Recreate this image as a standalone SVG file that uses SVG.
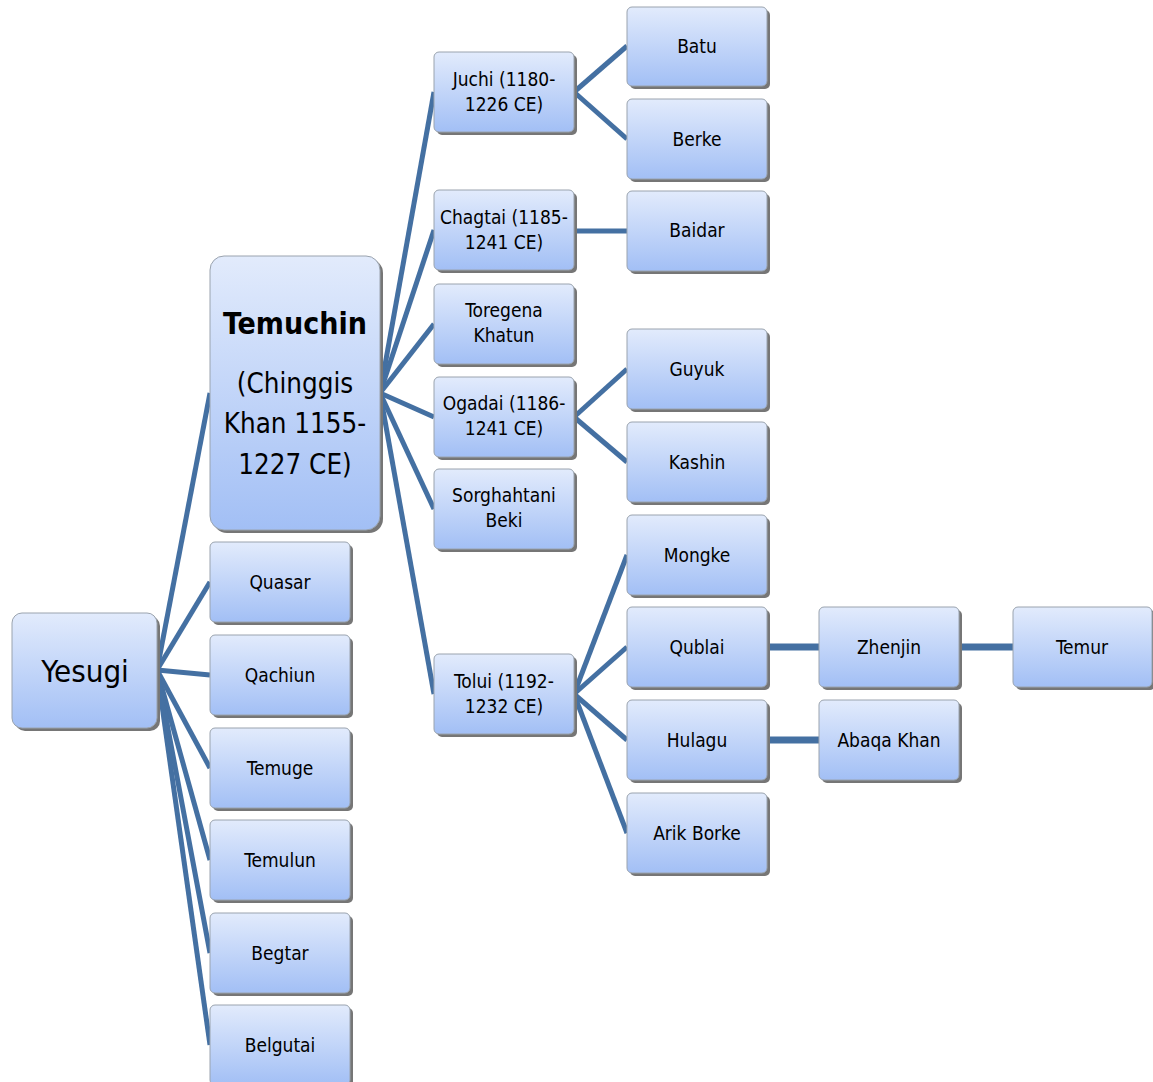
<svg xmlns="http://www.w3.org/2000/svg" width="1153" height="1082" viewBox="0 0 1153 1082">
<defs>
<linearGradient id="g" x1="0" y1="0" x2="0" y2="1">
<stop offset="0" stop-color="#e2ebfc"/>
<stop offset="1" stop-color="#a2bff5"/>
</linearGradient>
</defs>
<style>
.sh{fill:#767676}
.bx{fill:url(#g);stroke:#9aa3ae;stroke-width:1}
.t{font-family:"Liberation Sans Narrow","DejaVu Sans Condensed",sans-serif;font-size:19px;fill:#000;text-anchor:middle}
.c line{stroke:#4470a2;stroke-width:5;stroke-linecap:butt}
</style>
<rect width="1153" height="1082" fill="#fff"/>
<g class="c" id="connectors">
<line x1="157" y1="670" x2="210" y2="393"/>
<line x1="157" y1="670" x2="210" y2="582"/>
<line x1="157" y1="670" x2="210" y2="675"/>
<line x1="157" y1="670" x2="210" y2="768"/>
<line x1="157" y1="670" x2="210" y2="860"/>
<line x1="157" y1="670" x2="210" y2="953"/>
<line x1="157" y1="670" x2="210" y2="1045"/>
<line x1="380" y1="393" x2="434" y2="92"/>
<line x1="380" y1="393" x2="434" y2="230"/>
<line x1="380" y1="393" x2="434" y2="324"/>
<line x1="380" y1="393" x2="434" y2="417"/>
<line x1="380" y1="393" x2="434" y2="509"/>
<line x1="380" y1="393" x2="434" y2="694"/>
<line x1="574" y1="92" x2="627" y2="46"/>
<line x1="574" y1="92" x2="627" y2="139"/>
<line x1="574" y1="231" x2="627" y2="231"/>
<line x1="574" y1="417" x2="627" y2="369"/>
<line x1="574" y1="417" x2="627" y2="462"/>
<line x1="574" y1="694" x2="627" y2="555"/>
<line x1="574" y1="694" x2="627" y2="647"/>
<line x1="574" y1="694" x2="627" y2="740"/>
<line x1="574" y1="694" x2="627" y2="833"/>
<line x1="767" y1="647" x2="819" y2="647" style="stroke-width:7"/>
<line x1="959" y1="647" x2="1013" y2="647" style="stroke-width:7"/>
<line x1="767" y1="740" x2="819" y2="740" style="stroke-width:7"/>
</g>
<g id="yesugi"><rect class="sh" x="15" y="616" width="145" height="115" rx="10"/><rect class="bx" x="12" y="613" width="145" height="115" rx="10"/><text class="t" x="85" y="682" style="font-size:31px">Yesugi</text></g>
<g id="temuchin"><rect class="sh" x="213" y="259" width="170" height="274" rx="14"/><rect class="bx" x="210" y="256" width="170" height="274" rx="14"/>
<text class="t" x="295" y="334" style="font-size:30px;font-weight:bold">Temuchin</text>
<text class="t" x="295" y="393" style="font-size:27.5px">(Chinggis</text>
<text class="t" x="295" y="433" style="font-size:27.5px">Khan 1155-</text>
<text class="t" x="295" y="474" style="font-size:27.5px">1227 CE)</text></g>
<g id="quasar"><rect class="sh" x="213" y="545" width="140" height="80" rx="5"/><rect class="bx" x="210" y="542" width="140" height="80" rx="5"/><text class="t" x="280" y="589">Quasar</text></g>
<g id="qachiun"><rect class="sh" x="213" y="638" width="140" height="80" rx="5"/><rect class="bx" x="210" y="635" width="140" height="80" rx="5"/><text class="t" x="280" y="682">Qachiun</text></g>
<g id="temuge"><rect class="sh" x="213" y="731" width="140" height="80" rx="5"/><rect class="bx" x="210" y="728" width="140" height="80" rx="5"/><text class="t" x="280" y="775">Temuge</text></g>
<g id="temulun"><rect class="sh" x="213" y="823" width="140" height="80" rx="5"/><rect class="bx" x="210" y="820" width="140" height="80" rx="5"/><text class="t" x="280" y="867">Temulun</text></g>
<g id="begtar"><rect class="sh" x="213" y="916" width="140" height="80" rx="5"/><rect class="bx" x="210" y="913" width="140" height="80" rx="5"/><text class="t" x="280" y="960">Begtar</text></g>
<g id="belgutai"><rect class="sh" x="213" y="1008" width="140" height="80" rx="5"/><rect class="bx" x="210" y="1005" width="140" height="80" rx="5"/><text class="t" x="280" y="1052">Belgutai</text></g>
<g id="juchi"><rect class="sh" x="437" y="55" width="140" height="80" rx="5"/><rect class="bx" x="434" y="52" width="140" height="80" rx="5"/><text class="t" x="504" y="86">Juchi (1180-</text><text class="t" x="504" y="111">1226 CE)</text></g>
<g id="chagtai"><rect class="sh" x="437" y="193" width="140" height="80" rx="5"/><rect class="bx" x="434" y="190" width="140" height="80" rx="5"/><text class="t" x="504" y="224">Chagtai (1185-</text><text class="t" x="504" y="249">1241 CE)</text></g>
<g id="toregena"><rect class="sh" x="437" y="287" width="140" height="80" rx="5"/><rect class="bx" x="434" y="284" width="140" height="80" rx="5"/><text class="t" x="504" y="317">Toregena</text><text class="t" x="504" y="342">Khatun</text></g>
<g id="ogadai"><rect class="sh" x="437" y="380" width="140" height="80" rx="5"/><rect class="bx" x="434" y="377" width="140" height="80" rx="5"/><text class="t" x="504" y="410">Ogadai (1186-</text><text class="t" x="504" y="435">1241 CE)</text></g>
<g id="sorghahtani"><rect class="sh" x="437" y="472" width="140" height="80" rx="5"/><rect class="bx" x="434" y="469" width="140" height="80" rx="5"/><text class="t" x="504" y="502">Sorghahtani</text><text class="t" x="504" y="527">Beki</text></g>
<g id="tolui"><rect class="sh" x="437" y="657" width="140" height="80" rx="5"/><rect class="bx" x="434" y="654" width="140" height="80" rx="5"/><text class="t" x="504" y="688">Tolui (1192-</text><text class="t" x="504" y="713">1232 CE)</text></g>
<g id="batu"><rect class="sh" x="630" y="10" width="140" height="79" rx="5"/><rect class="bx" x="627" y="7" width="140" height="79" rx="5"/><text class="t" x="697" y="53">Batu</text></g>
<g id="berke"><rect class="sh" x="630" y="102" width="140" height="80" rx="5"/><rect class="bx" x="627" y="99" width="140" height="80" rx="5"/><text class="t" x="697" y="146">Berke</text></g>
<g id="baidar"><rect class="sh" x="630" y="194" width="140" height="80" rx="5"/><rect class="bx" x="627" y="191" width="140" height="80" rx="5"/><text class="t" x="697" y="237">Baidar</text></g>
<g id="guyuk"><rect class="sh" x="630" y="332" width="140" height="80" rx="5"/><rect class="bx" x="627" y="329" width="140" height="80" rx="5"/><text class="t" x="697" y="376">Guyuk</text></g>
<g id="kashin"><rect class="sh" x="630" y="425" width="140" height="80" rx="5"/><rect class="bx" x="627" y="422" width="140" height="80" rx="5"/><text class="t" x="697" y="469">Kashin</text></g>
<g id="mongke"><rect class="sh" x="630" y="518" width="140" height="80" rx="5"/><rect class="bx" x="627" y="515" width="140" height="80" rx="5"/><text class="t" x="697" y="562">Mongke</text></g>
<g id="qublai"><rect class="sh" x="630" y="610" width="140" height="80" rx="5"/><rect class="bx" x="627" y="607" width="140" height="80" rx="5"/><text class="t" x="697" y="654">Qublai</text></g>
<g id="hulagu"><rect class="sh" x="630" y="703" width="140" height="80" rx="5"/><rect class="bx" x="627" y="700" width="140" height="80" rx="5"/><text class="t" x="697" y="747">Hulagu</text></g>
<g id="arikborke"><rect class="sh" x="630" y="796" width="140" height="80" rx="5"/><rect class="bx" x="627" y="793" width="140" height="80" rx="5"/><text class="t" x="697" y="840">Arik Borke</text></g>
<g id="zhenjin"><rect class="sh" x="822" y="610" width="140" height="80" rx="5"/><rect class="bx" x="819" y="607" width="140" height="80" rx="5"/><text class="t" x="889" y="654">Zhenjin</text></g>
<g id="abaqakhan"><rect class="sh" x="822" y="703" width="140" height="80" rx="5"/><rect class="bx" x="819" y="700" width="140" height="80" rx="5"/><text class="t" x="889" y="747">Abaqa  Khan</text></g>
<g id="temur"><rect class="sh" x="1016" y="610" width="139" height="80" rx="5"/><rect class="bx" x="1013" y="607" width="139" height="80" rx="5"/><text class="t" x="1082" y="654">Temur</text></g>
</svg>
